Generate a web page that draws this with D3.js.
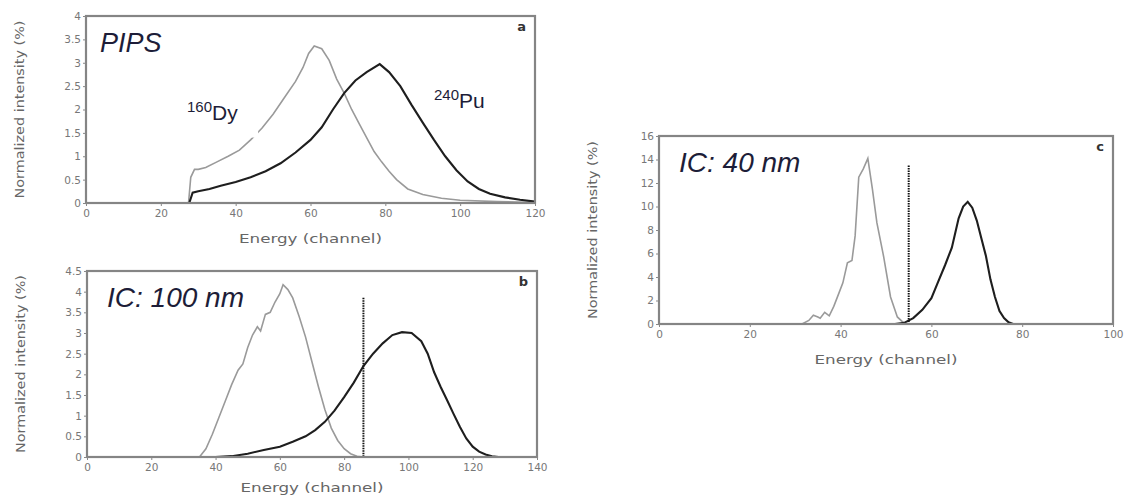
<!DOCTYPE html>
<meta charset="utf-8">
<head>
  <title>Energy spectra PIPS / IC</title>
</head>

<style>
body {
  margin: 0;
  background: #fff;
  font-family: "DejaVu Sans", Verdana, sans-serif;
}
.tick text { fill: #777; font-size: 10.5px; font-family: "DejaVu Sans", sans-serif; }
.tick line { stroke: #888; }
.atitle { fill: #666; font-size: 12px; font-family: "DejaVu Sans", sans-serif; }
.big { fill: #1d1d38; font-family: "Liberation Sans", Arial, sans-serif; }
</style>

<body>
  <svg width="1124" height="497"></svg>

  <script src="https://cdnjs.cloudflare.com/ajax/libs/d3/7.8.5/d3.min.js"></script>

  <script>
// panel a : PIPS
var dyPIPS = [[0,0],[27.4,0],[28,0.55],[29,0.72],[30,0.72],[32,0.76],[35,0.88],[38,1.0],[41,1.13],[44,1.35],
  [47,1.6],[50,1.9],[53,2.25],[56,2.6],[58,2.9],[59.5,3.2],[61,3.36],[63,3.3],[65,3.05],[67,2.65],[69,2.35],
  [71,2.0],[73,1.7],[75,1.4],[77,1.1],[79,0.88],[81,0.68],[83,0.5],[86,0.3],[90,0.18],[95,0.1],[100,0.06],
  [110,0.03],[120,0.01]];
var puPIPS = [[0,0],[27.6,0],[28.5,0.22],[30,0.25],[33,0.3],[36,0.37],[40,0.45],[44,0.55],[48,0.68],[52,0.85],
  [56,1.08],[60,1.35],[63,1.62],[66,2.0],[69,2.35],[72,2.62],[75,2.8],[78.5,2.97],[81,2.8],[84,2.5],[87,2.1],
  [90,1.72],[93,1.35],[96,1.0],[99,0.7],[102,0.46],[105,0.3],[108,0.2],[112,0.12],[116,0.07],[120,0.03]];

// panel b : IC 100 nm
var dyIC100 = [[0,0],[35,0],[37,0.2],[39,0.55],[41,0.95],[43,1.35],[45,1.75],[47,2.1],[48.5,2.25],[50,2.65],
  [51.5,2.95],[53,3.15],[54,3.05],[55.5,3.45],[57,3.5],[58.5,3.75],[60,3.95],[61,4.17],[62.5,4.05],[64,3.85],
  [66,3.4],[68,2.9],[70,2.3],[72,1.7],[74,1.15],[76,0.7],[78,0.4],[80,0.2],[82,0.08],[84,0.02],[86,0]];
var puIC100 = [[0,0],[40,0],[45,0.02],[50,0.08],[55,0.17],[60,0.25],[64,0.37],[68,0.5],[71,0.65],[74,0.85],
  [77,1.12],[80,1.45],[83,1.8],[86,2.2],[89,2.5],[92,2.75],[95,2.95],[98,3.02],[101,3.0],[104,2.8],[106,2.5],
  [108,2.05],[110,1.7],[112,1.38],[114,1.05],[116,0.73],[118,0.45],[120,0.25],[122,0.13],[124,0.06],[126,0.02],[128,0]];

// panel c : IC 40 nm
var dyIC40 = [[0,0],[31.5,0],[33,0.3],[34,0.75],[35,0.6],[35.5,0.5],[36.5,1.0],[37.5,0.7],[38.5,1.5],[39.5,2.5],
  [40.5,3.5],[41.5,5.2],[42.5,5.4],[43.2,7.5],[44,12.5],[45,13.2],[46,14.1],[47,11.5],[48,8.6],[49.5,5.7],
  [51,2.3],[52.5,0.6],[54,0.05],[56,0]];
var puIC40 = [[52,0],[54,0.1],[56,0.5],[58,1.2],[60,2.2],[61.5,3.6],[63,5.0],[64.5,6.5],[66,9.0],[67,10.0],
  [68,10.4],[69,9.9],[70,8.8],[71,7.3],[72,5.8],[73,3.8],[74,2.3],[75,1.1],[76,0.5],[77,0.15],[78,0]];

var xTicksA = [0, 20, 40, 60, 80, 100, 120];
var yTicksA = [0, 0.5, 1, 1.5, 2, 2.5, 3, 3.5, 4];
var xTicksB = [0, 20, 40, 60, 80, 100, 120, 140];
var yTicksB = [0, 0.5, 1, 1.5, 2, 2.5, 3, 3.5, 4, 4.5];
var xTicksC = [0, 20, 40, 60, 80, 100];
var yTicksC = [0, 2, 4, 6, 8, 10, 12, 14, 16];

var svg = d3.select('svg');

function panel(p) {
  var x = d3.scaleLinear().domain([0, d3.max(p.xTicks)]).range([p.left, p.right]);
  var y = d3.scaleLinear().domain([0, d3.max(p.yTicks)]).range([p.bottom, p.top]);
  var g = svg.append('g');

  var line = d3.line().x(d => x(d[0])).y(d => y(d[1]));

  g.append('path').datum(p.dy)
    .attr('d', line).attr('fill', 'none')
    .attr('stroke', '#9a9a9a').attr('stroke-width', 1.6);

  // label background hides part of the grey curve (as in the original)
  if (p.dyLabel && p.dyLabel.mask) {
    g.append('rect')
      .attr('x', x(p.dyLabel.mask[0])).attr('y', y(p.dyLabel.mask[3]))
      .attr('width', x(p.dyLabel.mask[1]) - x(p.dyLabel.mask[0]))
      .attr('height', y(p.dyLabel.mask[2]) - y(p.dyLabel.mask[3]))
      .attr('fill', '#fff');
  }

  g.append('path').datum(p.pu)
    .attr('d', line).attr('fill', 'none')
    .attr('stroke', '#1e1e1e').attr('stroke-width', 2.1);

  if (p.cut != null) {
    g.append('line')
      .attr('x1', x(p.cut)).attr('x2', x(p.cut))
      .attr('y1', y(p.cutTop)).attr('y2', y(0))
      .attr('stroke', '#111').attr('stroke-width', 2)
      .attr('stroke-dasharray', '1.5,1');
  }

  // frame
  g.append('rect')
    .attr('x', p.left).attr('y', p.top)
    .attr('width', p.right - p.left).attr('height', p.bottom - p.top)
    .attr('fill', 'none').attr('stroke', '#858585').attr('stroke-width', 2.2);

  var xa = g.append('g').attr('transform', 'translate(0,' + p.bottom + ')')
    .call(d3.axisBottom(x).tickValues(p.xTicks).tickSize(3).tickSizeOuter(0).tickPadding(4));
  var ya = g.append('g').attr('transform', 'translate(' + p.left + ',0)')
    .call(d3.axisLeft(y).tickValues(p.yTicks).tickFormat(d => d).tickSize(3).tickSizeOuter(0).tickPadding(2));
  xa.select('.domain').remove();
  ya.select('.domain').remove();

  g.append('text').attr('class', 'atitle')
    .attr('x', (p.left + p.right) / 2).attr('y', p.bottom + p.xTitleGap)
    .attr('text-anchor', 'middle')
    .attr('textLength', 143).attr('lengthAdjust', 'spacingAndGlyphs')
    .text('Energy (channel)');

  g.append('text').attr('class', 'atitle')
    .attr('transform', 'translate(' + (p.left - 62) + ',' + (p.top + p.bottom) / 2 + ') rotate(-90)')
    .attr('text-anchor', 'middle')
    .attr('textLength', 178).attr('lengthAdjust', 'spacingAndGlyphs')
    .text('Normalized intensity (%)');

  g.append('text')
    .attr('x', p.right - 9).attr('y', p.top + 15)
    .attr('text-anchor', 'end')
    .attr('font-weight', 'bold').attr('font-size', 13).attr('fill', '#333')
    .text(p.letter);

  g.append('text').attr('class', 'big')
    .attr('x', p.left + p.titleDx).attr('y', p.top + 36)
    .attr('font-size', p.titleSize).attr('font-style', 'italic')
    .text(p.title);

  [p.dyLabel, p.puLabel].forEach(function (l) {
    if (!l) return;
    var t = g.append('text').attr('class', 'big')
      .attr('x', x(l.at[0])).attr('y', y(l.at[1]));
    t.append('tspan').attr('font-size', 15).attr('dy', -8).text(l.mass);
    t.append('tspan').attr('font-size', 21).attr('dy', 8).text(l.el);
  });
}

panel({
  left: 86, right: 535, top: 16, bottom: 203,
  xTicks: xTicksA, yTicks: yTicksA,
  dy: dyPIPS, pu: puPIPS,
  letter: 'a', title: 'PIPS', titleDx: 14, titleSize: 27, xTitleGap: 40,
  dyLabel: {at: [27, 1.77], mass: '160', el: 'Dy', mask: [23, 46, 1.4, 2.4]},
  puLabel: {at: [93, 2.04], mass: '240', el: 'Pu'}
});

panel({
  left: 87, right: 537, top: 271, bottom: 457,
  xTicks: xTicksB, yTicks: yTicksB,
  dy: dyIC100, pu: puIC100,
  cut: 86, cutTop: 3.85,
  letter: 'b', title: 'IC: 100 nm', titleDx: 20, titleSize: 28, xTitleGap: 35
});

panel({
  left: 659, right: 1113, top: 136, bottom: 324,
  xTicks: xTicksC, yTicks: yTicksC,
  dy: dyIC40, pu: puIC40,
  cut: 55, cutTop: 13.5,
  letter: 'c', title: 'IC: 40 nm', titleDx: 20, titleSize: 28, xTitleGap: 40
});
  </script>
</body>
</html>
